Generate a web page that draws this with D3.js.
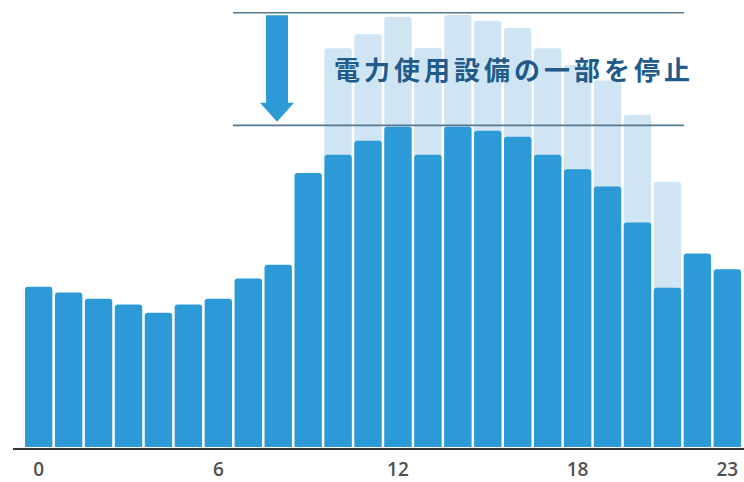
<!DOCTYPE html>
<html><head><meta charset="utf-8">
<script src="https://cdn.jsdelivr.net/npm/d3@7"></script>
<style>html,body{margin:0;padding:0;background:#fff;}svg{display:block;}</style>
</head><body>
<svg id="c" width="744" height="482"></svg>
<script>
const hours = d3.range(24).map(String);
const afterValues = [36.4,35.1,33.7,32.4,30.5,32.4,33.7,38.3,41.4,62.3,66.4,69.6,72.8,66.4,72.8,71.9,70.5,66.4,63.1,59.2,51.0,36.2,44.0,40.4];
const beforeValues = [null,null,null,null,null,null,null,null,null,null,90.6,93.8,97.8,90.7,98.2,96.9,95.2,90.6,86.8,83.3,75.5,60.3,null,null];
const tickLabels = ["0","6","12","18","23"];
const peakLines = [98.7, 73.1];
const annotation = "電力使用設備の一部を停止";

const svg = d3.select("#c");
const x = d3.scaleBand().domain(hours).range([25, 741]).paddingInner(0.085).paddingOuter(0);
const y = d3.scaleLinear().domain([0, 100]).range([447, 7]);
const r = 3;

function topRounded(x0, y0, w, h) {
  return `M${x0},${y0+h}V${y0+r}Q${x0},${y0} ${x0+r},${y0}H${x0+w-r}Q${x0+w},${y0} ${x0+w},${y0+r}V${y0+h}Z`;
}

// before bars (light)
svg.append("g").selectAll("path").data(hours.filter((h,i)=>beforeValues[i]!=null))
  .join("path")
  .attr("fill", "#cfe5f4")
  .attr("d", h => { const v = beforeValues[+h]; return topRounded(x(h), y(v), x.bandwidth(), y(0)-y(v)); });

// peak lines
svg.append("g").selectAll("line").data(peakLines).join("line")
  .attr("x1", 233).attr("x2", 684)
  .attr("y1", d => y(d)).attr("y2", d => y(d))
  .attr("stroke", "#55778f").attr("stroke-width", 1.6);

// after bars (dark)
svg.append("g").selectAll("path").data(hours).join("path")
  .attr("fill", "#2b9ad6")
  .attr("d", (h,i) => topRounded(x(h), y(afterValues[i]), x.bandwidth(), y(0)-y(afterValues[i])));

// arrow
const ax = 277;
const aTop = y(peakLines[0]) + 2.5, aTip = y(peakLines[1]) - 3.5;
svg.append("path")
  .attr("fill", "#2b9ad6")
  .attr("d", `M${ax-11},${aTop}H${ax+11}V${aTip-19}H${ax+17}L${ax},${aTip}L${ax-17},${aTip-19}H${ax-11}Z`);

// annotation
svg.append("text")
  .attr("x", 334).attr("y", 80)
  .attr("font-family", "'Noto Sans CJK JP','Noto Sans',sans-serif")
  .attr("font-weight", 700).attr("font-size", 26)
  .attr("letter-spacing", 4)
  .attr("fill", "#225b8a")
  .text(annotation);

// x axis
const axis = d3.axisBottom(x).tickValues(tickLabels).tickSize(0).tickPadding(14);
const g = svg.append("g").attr("transform", `translate(0,${y(0)+2})`).call(axis);
g.select(".domain").remove();
g.append("line").attr("x1", 13).attr("x2", 744).attr("y1", 0).attr("y2", 0)
  .attr("stroke", "#333").attr("stroke-width", 2);
g.selectAll(".tick text")
  .attr("font-family", "'Open Sans','Noto Sans',sans-serif")
  .attr("font-size", 19).attr("font-weight", 600).attr("fill", "#505050");
</script>
</body></html>
